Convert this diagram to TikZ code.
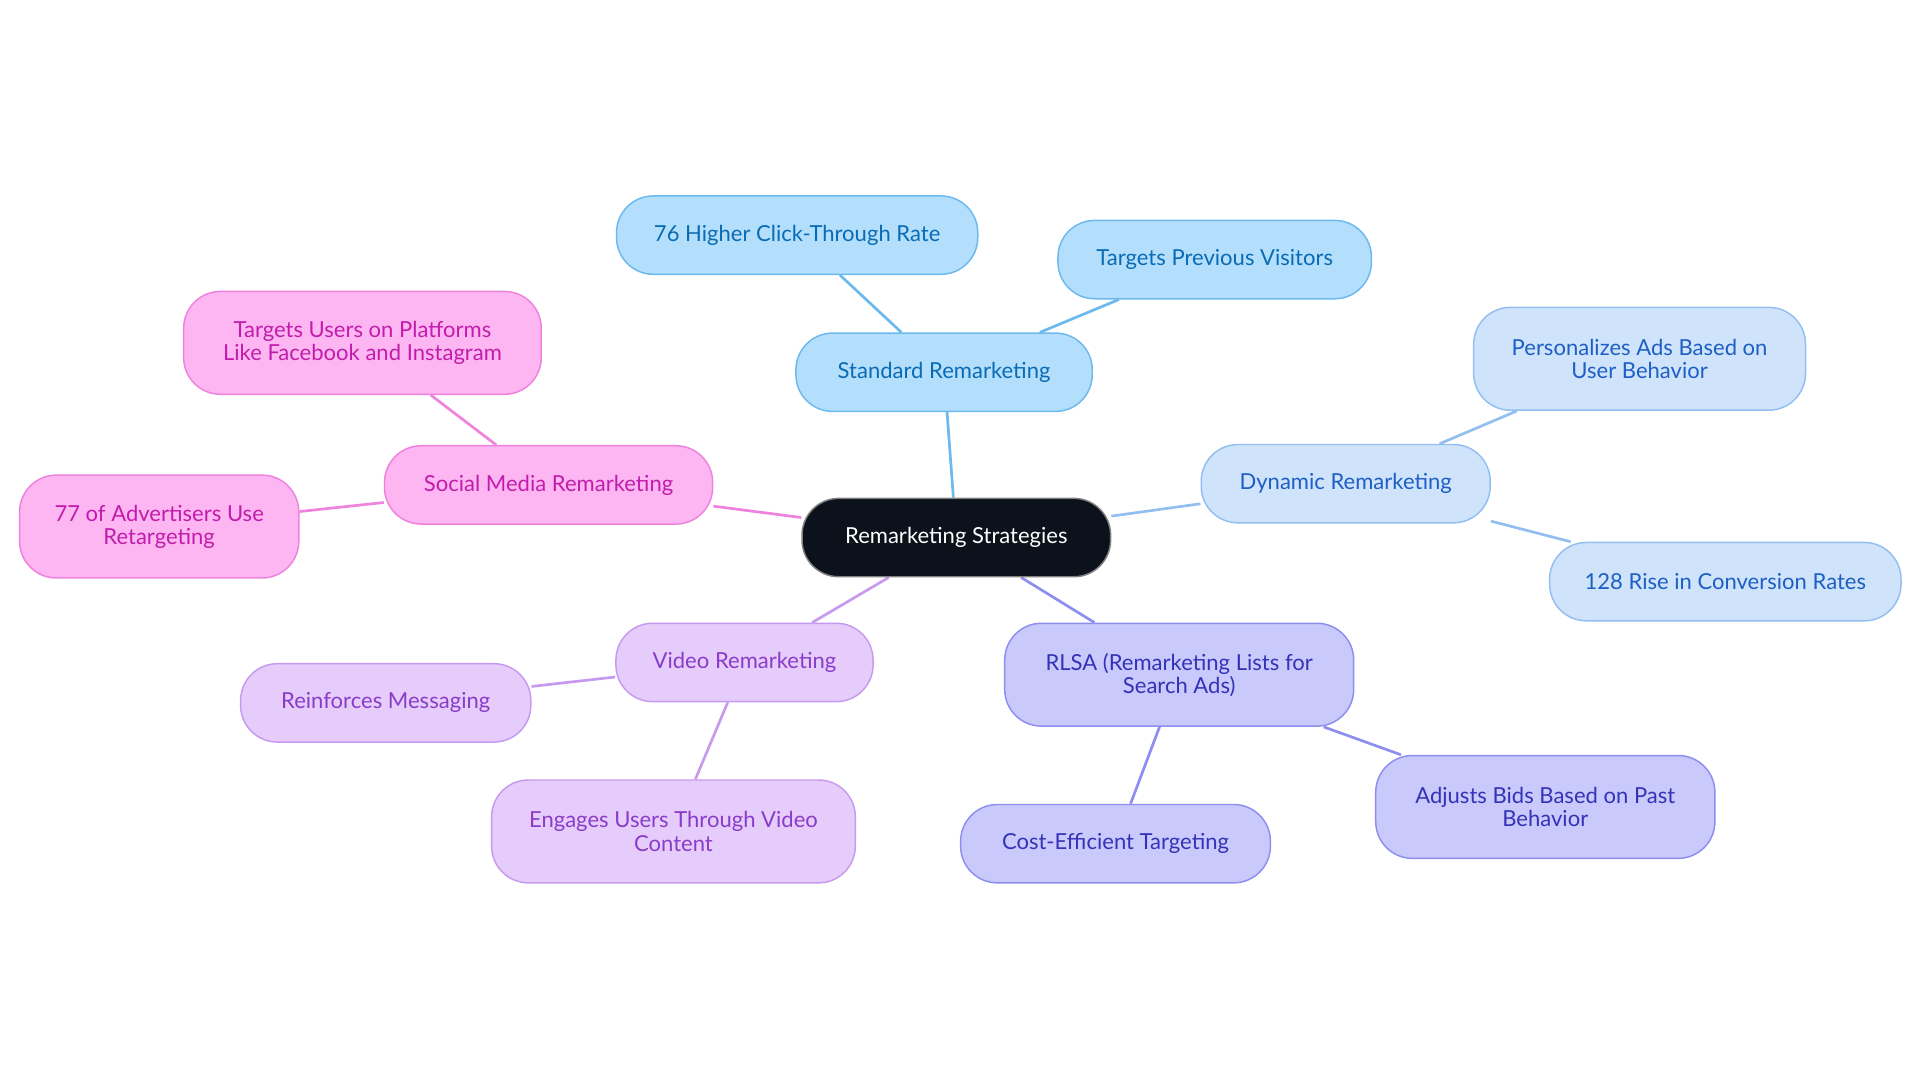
\documentclass[tikz,border=0pt]{standalone}
\usepackage{fontspec}
\setmainfont{Lato}
\usetikzlibrary{backgrounds}
\definecolor{cbg}{HTML}{0B121B}
\definecolor{bF}{HTML}{B3DFFC}\definecolor{bD}{HTML}{6CB9EE}\definecolor{bT}{HTML}{0A6BB5}
\definecolor{dF}{HTML}{CFE3FB}\definecolor{dD}{HTML}{93BFF0}\definecolor{dT}{HTML}{1D5FC4}
\definecolor{rF}{HTML}{C9C9FB}\definecolor{rD}{HTML}{8D8EF0}\definecolor{rT}{HTML}{3333B8}
\definecolor{vF}{HTML}{E5CCFB}\definecolor{vD}{HTML}{C79AF0}\definecolor{vT}{HTML}{8A3CC9}
\definecolor{sF}{HTML}{FDB6F1}\definecolor{sD}{HTML}{EE82DD}\definecolor{sT}{HTML}{C21CAD}
\tikzset{
 box/.style={rounded corners=15pt,draw,line width=0.6pt,align=center,font=\fontsize{9}{9.5}\selectfont,inner sep=0pt},
 bl/.style={box,fill=bF,draw=bD,text=bT},
 dy/.style={box,fill=dF,draw=dD,text=dT},
 rl/.style={box,fill=rF,draw=rD,text=rT},
 vi/.style={box,fill=vF,draw=vD,text=vT},
 so/.style={box,fill=sF,draw=sD,text=sT},
 ln/.style={line width=1.1pt}
}
\newcommand{\nd}[7]{\node[#1,minimum width=#4*0.5pt,minimum height=#5*0.5pt] (#2) at (#3) {#6};}
\begin{document}
\begin{tikzpicture}[x=0.5pt,y=-0.5pt]
\useasboundingbox (0,0) rectangle (1568,884);
\node[box,fill=cbg,draw=gray,text=white,minimum width=126pt,minimum height=32pt] (c) at (781,439) {Remarketing Strategies};
\node[bl,minimum width=121pt,minimum height=32pt] (s) at (771,304) {Standard Remarketing};
\node[bl,minimum width=147.5pt,minimum height=32pt] (s1) at (651,192) {76 Higher Click-Through Rate};
\node[bl,minimum width=128pt,minimum height=32pt] (s2) at (992,212) {Targets Previous Visitors};
\node[dy,minimum width=118pt,minimum height=32pt] (d) at (1099,395) {Dynamic Remarketing};
\node[dy,minimum width=135.5pt,minimum height=42pt] (d1) at (1339,293) {Personalizes Ads Based on\\User Behavior};
\node[dy,minimum width=143.5pt,minimum height=32pt] (d2) at (1409,475) {128 Rise in Conversion Rates};
\node[rl,minimum width=142.5pt,minimum height=42pt] (r) at (963,551) {RLSA (Remarketing Lists for\\Search Ads)};
\node[rl,minimum width=126.5pt,minimum height=32pt] (r1) at (911,689) {Cost-Efficient Targeting};
\node[rl,minimum width=138.5pt,minimum height=42pt] (r2) at (1262,659) {Adjusts Bids Based on Past\\Behavior};
\node[vi,minimum width=105pt,minimum height=32pt] (v) at (608,541) {Video Remarketing};
\node[vi,minimum width=118.5pt,minimum height=32pt] (v1) at (315,574) {Reinforces Messaging};
\node[vi,minimum width=148.5pt,minimum height=42pt] (v2) at (550,679) {Engages Users Through Video\\Content};
\node[so,minimum width=134pt,minimum height=32pt] (m) at (448,396) {Social Media Remarketing};
\node[so,minimum width=146pt,minimum height=42pt] (m1) at (296,280) {Targets Users on Platforms\\Like Facebook and Instagram};
\node[so,minimum width=114pt,minimum height=42pt] (m2) at (130,430) {77 of Advertisers Use\\Retargeting};
\begin{scope}[on background layer]
\draw[ln,bD] (c) -- (s) (s) -- (s1) (s) -- (s2);
\draw[ln,dD] (c) -- (d) (d) -- (d1) (d) -- (d2);
\draw[ln,rD] (c) -- (r) (r) -- (r1) (r) -- (r2);
\draw[ln,vD] (c) -- (v) (v) -- (v1) (v) -- (v2);
\draw[ln,sD] (c) -- (m) (m) -- (m1) (m) -- (m2);
\end{scope}
\end{tikzpicture}
\end{document}
